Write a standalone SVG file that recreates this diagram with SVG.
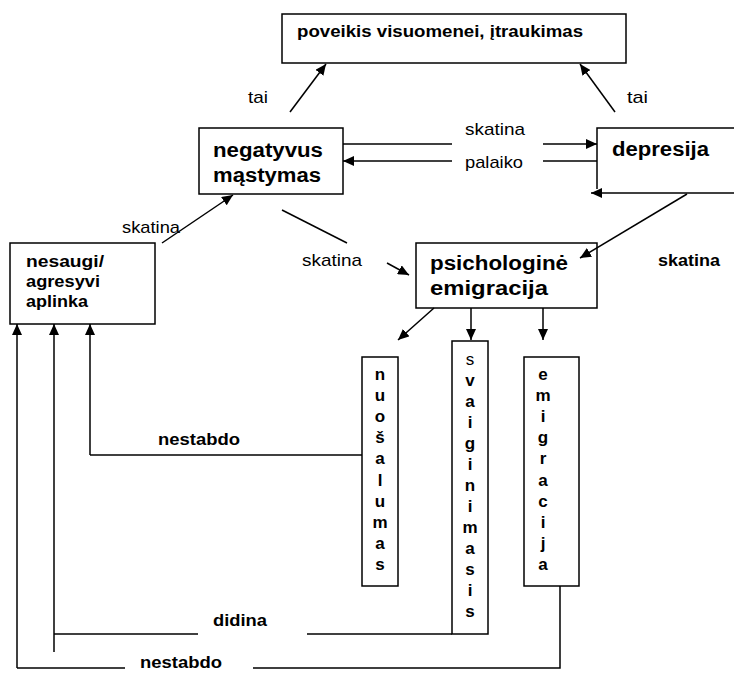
<svg xmlns="http://www.w3.org/2000/svg" width="734" height="673" viewBox="0 0 734 673">
<defs>
<marker id="ah" markerUnits="userSpaceOnUse" markerWidth="12" markerHeight="10" refX="11" refY="5" orient="auto">
<path d="M0,0 L11,5 L0,10 Z" fill="#000"/>
</marker>
<style>
.box{fill:none;stroke:#000;stroke-width:1.5}
.ln{fill:none;stroke:#000;stroke-width:1.5}
.ar{fill:none;stroke:#000;stroke-width:1.5;marker-end:url(#ah)}
.b{font-family:"Liberation Sans",Arial,sans-serif;font-weight:bold;fill:#000}
.r{font-family:"Liberation Sans",Arial,sans-serif;fill:#000}
.big{font-size:20px}
.mid{font-size:16px}
.lab{font-size:17px}
.v{font-size:17px;text-anchor:middle}
</style>
</defs>
<rect width="734" height="673" fill="#fff"/>

<g id="node-poveikis">
<rect class="box" x="282" y="14" width="344" height="49"/>
<text class="b lab" x="297" y="37" textLength="286" lengthAdjust="spacingAndGlyphs">poveikis visuomenei, įtraukimas</text>
</g>

<g id="node-negatyvus">
<rect class="box" x="199" y="128" width="144" height="66"/>
<text class="b big" x="213" y="157" textLength="110" lengthAdjust="spacingAndGlyphs">negatyvus</text>
<text class="b big" x="213" y="182" textLength="108" lengthAdjust="spacingAndGlyphs">mąstymas</text>
</g>

<g id="node-depresija">
<path class="ln" d="M597,189 V128 H736"/>
<text class="b big" x="612" y="156" textLength="97" lengthAdjust="spacingAndGlyphs">depresija</text>
</g>

<g id="node-nesaugi">
<rect class="box" x="10" y="243" width="145" height="81"/>
<text class="b mid" x="26" y="267" textLength="78" lengthAdjust="spacingAndGlyphs">nesaugi/</text>
<text class="b mid" x="26" y="287" textLength="74" lengthAdjust="spacingAndGlyphs">agresyvi</text>
<text class="b mid" x="26" y="307" textLength="62" lengthAdjust="spacingAndGlyphs">aplinka</text>
</g>

<g id="node-psichologine">
<rect class="box" x="416" y="243" width="181" height="65"/>
<text class="b big" x="430" y="270" textLength="138" lengthAdjust="spacingAndGlyphs">psichologinė</text>
<text class="b big" x="430" y="295" textLength="118" lengthAdjust="spacingAndGlyphs">emigracija</text>
</g>

<g id="node-nuosalumas">
<rect class="box" x="362" y="357" width="36" height="229"/>
<text class="b v" x="380" y="380">n</text>
<text class="b v" x="380" y="401">u</text>
<text class="b v" x="380" y="422">o</text>
<text class="b v" x="380" y="443">š</text>
<text class="b v" x="380" y="464">a</text>
<text class="b v" x="380" y="486">l</text>
<text class="b v" x="380" y="507">u</text>
<text class="b v" x="380" y="528">m</text>
<text class="b v" x="380" y="549">a</text>
<text class="b v" x="380" y="570">s</text>
</g>

<g id="node-svaiginimasis">
<rect class="box" x="452" y="341" width="36" height="293"/>
<text class="r v" x="470" y="365">s</text>
<text class="b v" x="470" y="386">v</text>
<text class="b v" x="470" y="407">a</text>
<text class="b v" x="470" y="428">i</text>
<text class="b v" x="470" y="449">g</text>
<text class="b v" x="470" y="470">i</text>
<text class="b v" x="470" y="491">n</text>
<text class="b v" x="470" y="512">i</text>
<text class="b v" x="470" y="533">m</text>
<text class="b v" x="470" y="554">a</text>
<text class="b v" x="470" y="575">s</text>
<text class="b v" x="470" y="596">i</text>
<text class="b v" x="470" y="617">s</text>
</g>

<g id="node-emigracija">
<rect class="box" x="524" y="357" width="55" height="229"/>
<text class="b v" x="543" y="380">e</text>
<text class="b v" x="543" y="401">m</text>
<text class="b v" x="543" y="422">i</text>
<text class="b v" x="543" y="443">g</text>
<text class="b v" x="543" y="464">r</text>
<text class="b v" x="543" y="486">a</text>
<text class="b v" x="543" y="507">c</text>
<text class="b v" x="543" y="528">i</text>
<text class="b v" x="543" y="549">j</text>
<text class="b v" x="543" y="570">a</text>
</g>

<g id="connectors">
<path class="ar" d="M290,112 L326,64"/>
<path class="ar" d="M615,112 L580,64"/>
<path class="ln" d="M343,144 H452"/>
<path class="ar" d="M543,144 H597"/>
<path class="ar" d="M452,161 H343"/>
<path class="ln" d="M543,161 H597"/>
<path class="ar" d="M736,193 H591"/>
<path class="ar" d="M162,243 L233,195"/>
<path class="ln" d="M282,210 L347,243"/>
<path class="ar" d="M387,263 L409,275"/>
<path class="ar" d="M687,194 L580,258"/>
<path class="ar" d="M434,308 L398,340"/>
<path class="ar" d="M471,308 V340"/>
<path class="ar" d="M543,308 V340"/>
<path class="ln" d="M362,455 H90"/>
<path class="ar" d="M90,455 V324"/>
<path class="ln" d="M452,634 H307"/>
<path class="ln" d="M198,634 H54"/>
<path class="ar" d="M54,652 V324"/>
<path class="ln" d="M560,586 V668 H253"/>
<path class="ln" d="M125,668 H17"/>
<path class="ar" d="M17,668 V324"/>
<text class="r lab" x="248" y="103" textLength="20" lengthAdjust="spacingAndGlyphs">tai</text>
<text class="r lab" x="627" y="103" textLength="21" lengthAdjust="spacingAndGlyphs">tai</text>
<text class="r lab" x="465" y="135" textLength="60" lengthAdjust="spacingAndGlyphs">skatina</text>
<text class="r lab" x="465" y="168" textLength="58" lengthAdjust="spacingAndGlyphs">palaiko</text>
<text class="r lab" x="122" y="233" textLength="58" lengthAdjust="spacingAndGlyphs">skatina</text>
<text class="r lab" x="302" y="266" textLength="60" lengthAdjust="spacingAndGlyphs">skatina</text>
<text class="b lab" x="658" y="266" textLength="62" lengthAdjust="spacingAndGlyphs">skatina</text>
<text class="b lab" x="158" y="445" textLength="82" lengthAdjust="spacingAndGlyphs">nestabdo</text>
<text class="b lab" x="213" y="626" textLength="54" lengthAdjust="spacingAndGlyphs">didina</text>
<text class="b lab" x="140" y="668" textLength="82" lengthAdjust="spacingAndGlyphs">nestabdo</text>
</g>
</svg>
